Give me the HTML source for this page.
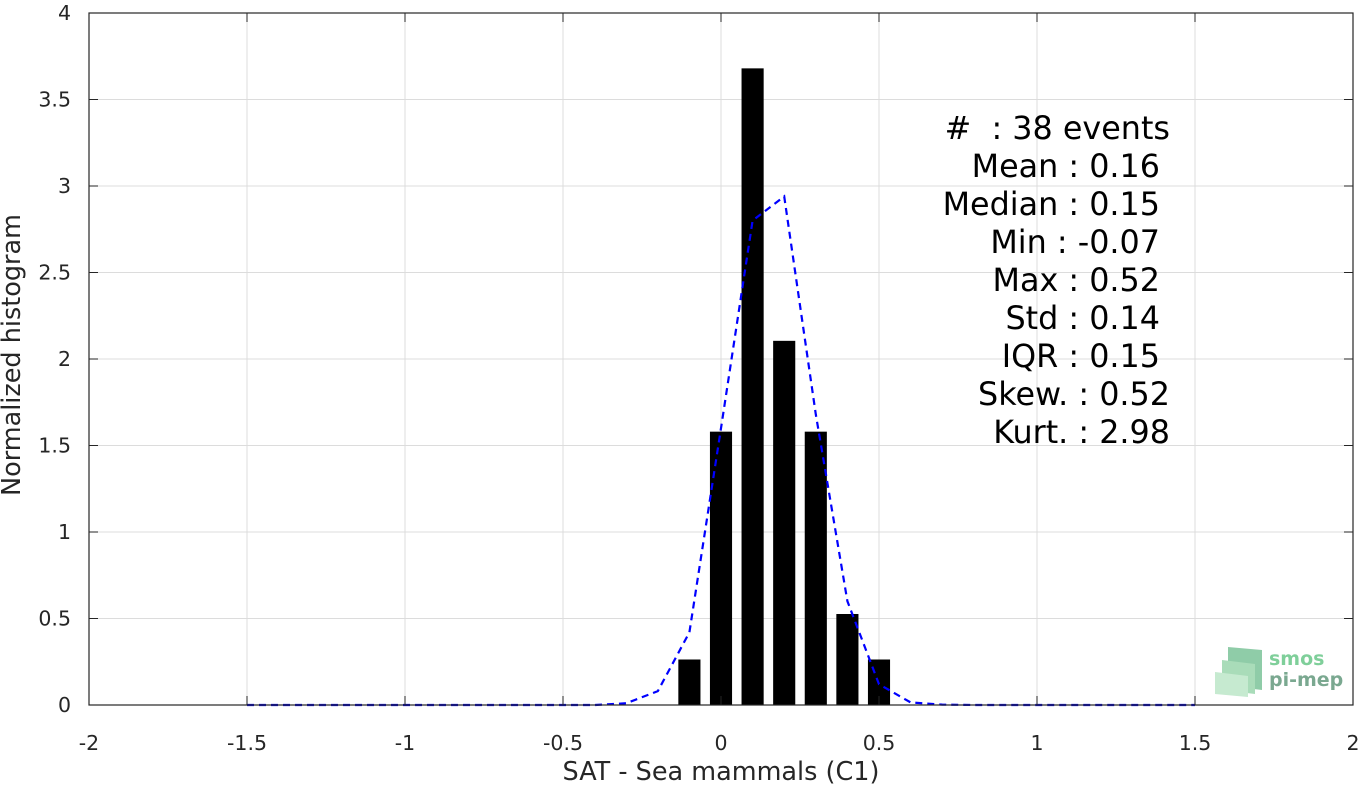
<!DOCTYPE html>
<html><head><meta charset="utf-8"><style>
body{margin:0;background:#fff;width:1366px;height:784px;overflow:hidden}
text{font-family:"DejaVu Sans","Liberation Sans",sans-serif}
</style></head><body>
<svg id="chart" width="1366" height="784" xmlns="http://www.w3.org/2000/svg">
<g id="grid"></g>
<g id="bars"></g>
<polyline id="curve" fill="none" stroke="#0000ff" stroke-width="2.2" stroke-dasharray="7,5"/>
<g id="axes"></g>
<text x="721" y="780" font-size="25.5" fill="#262626" text-anchor="middle">SAT - Sea mammals (C1)</text>
<text transform="translate(20,355) rotate(-90)" font-size="25.5" fill="#262626" text-anchor="middle">Normalized histogram</text>
<g font-size="31.8" fill="#000" text-anchor="end" style="white-space:pre">
<text x="1170" y="139" xml:space="preserve">#  : 38 events</text>
<text x="1160" y="177">Mean : 0.16</text>
<text x="1160" y="215">Median : 0.15</text>
<text x="1160" y="253">Min : -0.07</text>
<text x="1160" y="291">Max : 0.52</text>
<text x="1160" y="329">Std : 0.14</text>
<text x="1160" y="367">IQR : 0.15</text>
<text x="1170" y="405">Skew. : 0.52</text>
<text x="1170" y="443">Kurt. : 2.98</text>
</g>
<g>
<polygon points="1228,647 1262,650 1262,690 1228,686" fill="#8fcca8"/>
<polygon points="1222,660 1255,664 1255,694 1222,690" fill="#a9dcb9"/>
<polygon points="1215,672 1248,676 1248,697 1215,694" fill="#c6ead0"/>
<text x="1269" y="665" font-size="19" font-weight="bold" fill="#7fcf9a">smos</text>
<text x="1269" y="686" font-size="19" font-weight="bold" fill="#7aa890">pi-mep</text>
</g>
</svg>
<script>
const xTicks=[-2,-1.5,-1,-0.5,0,0.5,1,1.5,2];
const xTickLabels=["-2","-1.5","-1","-0.5","0","0.5","1","1.5","2"];
const yTicks=[0,0.5,1,1.5,2,2.5,3,3.5,4];
const yTickLabels=["0","0.5","1","1.5","2","2.5","3","3.5","4"];
const binCenters=[-0.1,0,0.1,0.2,0.3,0.4,0.5];
const binValues=[0.263,1.58,3.68,2.105,1.58,0.526,0.263];
const curveX=[-1.5,-1.4,-1.3,-1.2,-1.1,-1,-0.9,-0.8,-0.7,-0.6,-0.5,-0.4,-0.3,-0.2,-0.1,0,0.1,0.2,0.3,0.4,0.5,0.6,0.7,0.8,0.9,1,1.1,1.2,1.3,1.4,1.5];
const curveY=[0,0,0,0,0,0,0,0,0,0,0,0,0.01,0.08,0.42,1.6,2.8,2.94,1.68,0.6,0.12,0.015,0.002,0,0,0,0,0,0,0,0];
const X0=89,X1=1353,Y0=705,Y1=13;
const xs=v=>X0+(v+2)/4*(X1-X0);
const ys=v=>Y0-v/4*(Y0-Y1);
const NS="http://www.w3.org/2000/svg";
function mk(t,a,p){const e=document.createElementNS(NS,t);for(const k in a)e.setAttribute(k,a[k]);p.appendChild(e);return e;}
const grid=document.getElementById('grid'),axes=document.getElementById('axes'),bars=document.getElementById('bars');
xTicks.forEach((v,i)=>{
 const g=mk('line',{x1:xs(v),x2:xs(v),y1:Y1,y2:Y0,stroke:'#dcdcdc','stroke-width':1},grid);
 
 
 mk('line',{x1:xs(v),x2:xs(v),y1:Y0,y2:Y0-9,stroke:'#262626'},axes);
 mk('line',{x1:xs(v),x2:xs(v),y1:Y1,y2:Y1+9,stroke:'#262626'},axes);
 const t=mk('text',{x:xs(v),y:Y0+45,'font-size':20.5,fill:'#262626','text-anchor':'middle'},axes);
 t.textContent=xTickLabels[i];
 
 
});
yTicks.forEach((v,i)=>{
 const g=mk('line',{x1:X0,x2:X1,y1:ys(v),y2:ys(v),stroke:'#dcdcdc','stroke-width':1},grid);
 
 
 mk('line',{x1:X0,x2:X0+9,y1:ys(v),y2:ys(v),stroke:'#262626'},axes);
 mk('line',{x1:X1,x2:X1-9,y1:ys(v),y2:ys(v),stroke:'#262626'},axes);
 const t=mk('text',{x:X0-18,y:ys(v)+7,'font-size':20.5,fill:'#262626','text-anchor':'end'},axes);
 t.textContent=yTickLabels[i];
 
 
});
const bw=(xs(0.07)-xs(0));
binCenters.forEach((c,i)=>{
 const r=mk('rect',{x:xs(c)-bw/2,y:ys(binValues[i]),width:bw,height:Y0-ys(binValues[i]),fill:'#000'},bars);
 
 
});
document.getElementById('curve').setAttribute('points',curveX.map((x,i)=>xs(x)+','+ys(curveY[i])).join(' '));
mk('rect',{x:X0,y:Y1,width:X1-X0,height:Y0-Y1,fill:'none',stroke:'#262626','stroke-width':1.2},axes);
</script>
</body></html>
